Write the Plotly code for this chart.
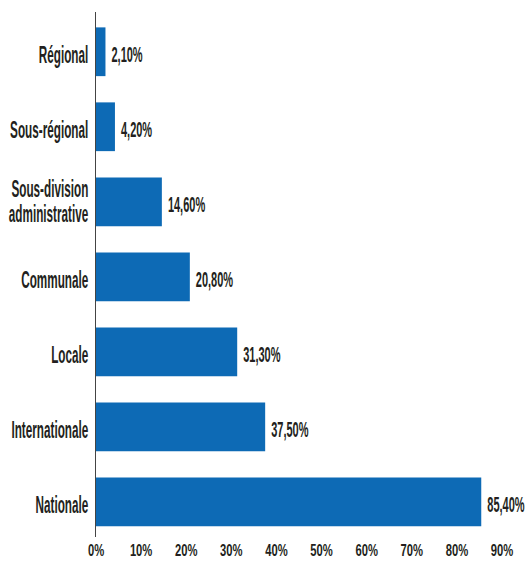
import plotly.graph_objects as go

categories = ["Nationale", "Internationale", "Locale", "Communale",
              "Sous-division<br>administrative", "Sous-régional", "Régional"]
values = [85.40, 37.50, 31.30, 20.80, 14.60, 4.20, 2.10]
tick_vals = [0, 10, 20, 30, 40, 50, 60, 70, 80, 90]
tick_text = [f"{v}%" for v in tick_vals]

labels = [f"{v:.2f}".replace(".", ",") + "%" for v in values]

FONT = "Liberation Sans, Arial, sans-serif"
TXT = "#231f20"

fig = go.Figure(go.Bar(
    y=categories, x=values, orientation="h",
    marker=dict(color="#0d6ab5", line=dict(width=0)),
    text=labels, textposition="outside", cliponaxis=False,
    textfont=dict(family=FONT, size=22, color=TXT, weight="bold"),
))

fig.update_layout(
    width=527, height=561,
    margin=dict(l=96, r=25, t=12, b=24, autoexpand=False),
    paper_bgcolor="white", plot_bgcolor="white",
    bargap=0.35, showlegend=False,
    font=dict(family=FONT, color=TXT, weight="bold"),
)
fig.update_xaxes(range=[0, 90], tickvals=tick_vals, ticktext=tick_text,
                 showgrid=False, zeroline=False, showline=False, automargin=False,
                 tickfont=dict(family=FONT, size=17, color=TXT, weight="bold"),
                 ticks="", ticklabelstandoff=1)
fig.update_yaxes(range=[-0.47, 6.53], showgrid=False, zeroline=False,
                 showline=True, linecolor="#444", linewidth=1.2, automargin=False,
                 ticks="", tickfont=dict(family=FONT, size=23, color=TXT, weight="bold"),
                 ticklabelstandoff=2)

# Condense the text horizontally (the reference uses a condensed typeface)
post = """
var gd = document.getElementById('{plot_id}');
function squeeze(sel, s, mode, dx, dy){
  gd.querySelectorAll(sel).forEach(function(t){
    var b = t.getBBox();
    var m = mode || t.getAttribute('text-anchor') || 'start';
    var ax = (m === 'end') ? b.x + b.width : (m === 'middle' ? b.x + b.width / 2 : b.x);
    var ay = b.y + b.height / 2;
    var tr = t.getAttribute('transform') || '';
    t.setAttribute('transform', tr + ' translate(' + (ax + (dx || 0)) + ',' + (ay + (dy || 0)) + ') scale(' + s + ',1) translate(' + (-ax) + ',' + (-ay) + ')');
  });
}
// tighter line spacing for wrapped category labels; nudge single-line labels down
gd.querySelectorAll('.ytick text').forEach(function(t){
  var lines = t.querySelectorAll('tspan.line');
  var tr = t.getAttribute('transform') || '';
  if (lines.length > 1) {
    for (var i = 1; i < lines.length; i++) lines[i].setAttribute('dy', '1.08em');
    var fs = parseFloat(getComputedStyle(t).fontSize) || 23;
    var shift = 0.11 * fs * (lines.length - 1);
    t.setAttribute('transform', tr + ' translate(0,' + shift + ')');
  } else {
    t.setAttribute('transform', tr + ' translate(0,3)');
  }
});
squeeze('.ytick text', 0.51);
squeeze('.xtick text', 0.66);
squeeze('.bartext', 0.5, 'start', 3, 3);
"""

fig.write_html("out.html", post_script=post)
